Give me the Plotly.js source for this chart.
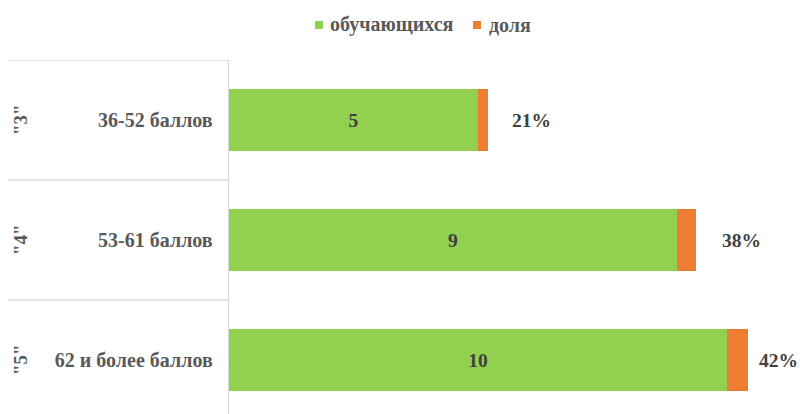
<!DOCTYPE html>
<html>
<head>
<meta charset="utf-8">
<script src="https://cdn.plot.ly/plotly-3.0.1.min.js"></script>
<style>html,body{margin:0;padding:0;background:#fff}#chart{width:800px;height:414px}</style>
</head>
<body>
<div id="chart"></div>
<script>
// ---- data ----
var grades = ['"3"', '"4"', '"5"'];
var ranges = ['36-52 баллов', '53-61 баллов', '62 и более баллов'];
var students = [5, 9, 10];
var share = [0.21, 0.38, 0.42];
var seriesNames = ['обучающихся', 'доля'];

var FONT = 'Liberation Serif, Times New Roman, serif';
var GREEN = '#92D050', ORANGE = '#ED7D31';
var idx = grades.map(function (_, i) { return i; });

// pixel -> paper helpers (plot area: x 229..800, y 60..414)
var L = 229, W = 571, T = 60, H = 354;
function px(x) { return (x - L) / W; }
function py(y) { return (T + H - y) / H; }

var traces = [
  {
    type: 'bar', orientation: 'h', name: seriesNames[0],
    y: idx, x: students,
    marker: {color: GREEN},
    text: students.map(String), textposition: 'inside', insidetextanchor: 'middle',
    textfont: {family: FONT, size: 19.5, color: '#404040', weight: 700},
    hoverinfo: 'x', showlegend: false
  },
  {
    type: 'bar', orientation: 'h', name: seriesNames[1],
    y: idx, x: share,
    marker: {color: ORANGE},
    hoverinfo: 'x', showlegend: false
  }
];

// percent labels right of bar ends (last one kept inside chart edge)
var labelShift = [22, 24, 9];
var annotations = idx.map(function (i) {
  return {
    x: students[i] + share[i], y: i, xref: 'x', yref: 'y',
    text: Math.round(share[i] * 100) + '%', showarrow: false,
    xanchor: 'left', xshift: labelShift[i],
    font: {family: FONT, size: 19.5, color: '#404040', weight: 700}
  };
});
// outer (rotated) category labels
idx.forEach(function (i) {
  annotations.push({
    x: px(20), xref: 'paper', y: i, yref: 'y', text: grades[i], showarrow: false,
    textangle: -90, xanchor: 'center', yanchor: 'middle',
    font: {family: FONT, size: 19, color: '#595959', weight: 700}
  });
});

// category separator lines on the left
var shapes = [];
for (var k = 0; k <= idx.length; k++) {
  shapes.push({
    type: 'line', xref: 'paper', yref: 'y',
    x0: px(8), x1: 0, y0: k - 0.5, y1: k - 0.5,
    line: {color: '#d9d9d9', width: 1.3}
  });
}

// legend (drawn as squares + text)
var legendItems = [
  {sq: 315, tx: 328, color: GREEN, name: seriesNames[0]},
  {sq: 473, tx: 487, color: ORANGE, name: seriesNames[1]}
];
legendItems.forEach(function (it) {
  shapes.push({
    type: 'rect', xref: 'paper', yref: 'paper',
    x0: px(it.sq), x1: px(it.sq + 8), y0: py(29), y1: py(21),
    fillcolor: it.color, line: {width: 0}
  });
  annotations.push({
    xref: 'paper', yref: 'paper', x: px(it.tx), y: py(25),
    xanchor: 'left', yanchor: 'middle', showarrow: false,
    text: it.name,
    font: {family: FONT, size: 20, color: '#595959', weight: 700}
  });
});

var layout = {
  width: 800, height: 414,
  margin: {l: L, r: 800 - L - W, t: T, b: 0},
  paper_bgcolor: '#fff', plot_bgcolor: '#fff',
  barmode: 'stack', bargap: 0.48,
  showlegend: false,
  xaxis: {range: [0, 11.47], visible: false, fixedrange: true},
  yaxis: {
    range: [2.45, -0.5], tickvals: idx, ticktext: ranges,
    ticks: '', showgrid: false, zeroline: false,
    showline: true, linecolor: '#d9d9d9', linewidth: 1.3,
    ticklabelstandoff: 11,
    tickfont: {family: FONT, size: 20, color: '#595959', weight: 700}
  },
  annotations: annotations,
  shapes: shapes
};

Plotly.newPlot('chart', traces, layout, {displayModeBar: false, staticPlot: true});
</script>
</body>
</html>
